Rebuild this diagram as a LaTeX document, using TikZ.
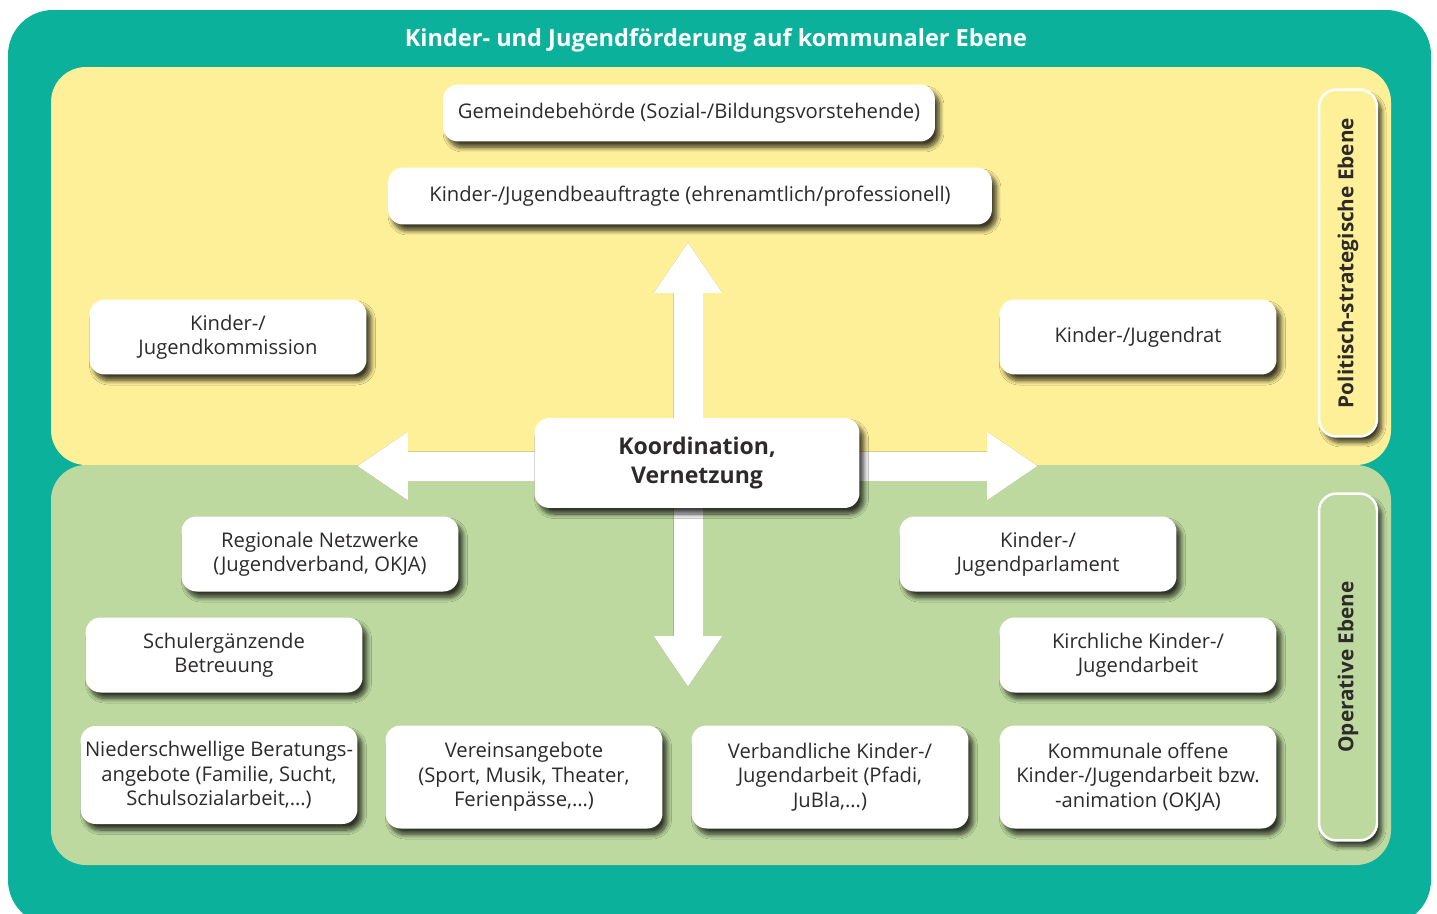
\documentclass[tikz,border=0pt]{standalone}
\usepackage{fontspec}
\setmainfont{Open Sans}
\usepackage{tikz}
\usetikzlibrary{arrows.meta,shapes,positioning,shadows,shadows.blur,calc}
\usepackage{xcolor}
\definecolor{frameteal}{RGB}{11,177,155}
\definecolor{polyellow}{RGB}{254,240,152}
\definecolor{opgreen}{RGB}{189,217,160}
\definecolor{boxtext}{RGB}{45,42,42}
\tikzstyle{softshadow} = [blur shadow={shadow xshift=0.09cm, shadow yshift=-0.12cm,
  shadow blur radius=0.09cm, shadow blur steps=10, shadow opacity=75}]
\tikzstyle{box} = [fill=white, rounded corners=0.3cm, align=center, text=boxtext,
  font=\fontsize{11.5}{13.9}\selectfont, inner xsep=1pt, softshadow]
\tikzstyle{smallbox} = [box, minimum width=5.54cm, minimum height=1.5cm]
\tikzstyle{levelbox} = [rounded corners=0.35cm, draw=white, line width=1.4pt, rotate=90,
  minimum width=6.94cm, minimum height=1.16cm, text=boxtext,
  font=\bfseries\fontsize{11.8}{13}\selectfont, softshadow]
\tikzstyle{bigarrow} = [line width=0.58cm, -{Triangle[length=1.02cm,width=1.3cm]}]

\begin{document}
\begin{tikzpicture}[x=0.02cm, y=-0.02cm]
    \useasboundingbox (0,0) rectangle (1437,913);
    \clip (0,0) rectangle (1437,913);

    % Frame and panels
    \fill[frameteal, rounded corners=0.9cm] (8,10) rectangle (1431,925);
    \node[text=white, font=\bfseries\fontsize{13.4}{15}\selectfont] (title) at (716,40)
        {Kinder- und Jugendförderung auf kommunaler Ebene};
    \fill[polyellow, rounded corners=0.7cm] (51,67) rectangle (1391,465);
    \fill[opgreen, rounded corners=0.7cm] (51,465) rectangle (1391,865);

    % Level labels
    \node[levelbox, fill=polyellow] (polit) at (1348,263) {Politisch-strategische Ebene};
    \node[levelbox, fill=opgreen] (oper) at (1348,667) {Operative Ebene};

    % Arrows
    \coordinate (hub) at (688,466);
    \coordinate (uptip) at (688,242);
    \coordinate (downtip) at (688,687);
    \coordinate (lefttip) at (357,466);
    \coordinate (righttip) at (1038,466);
    \begin{scope}[shift={(5,6)}, transparency group, opacity=0.4]
        \foreach \tip in {uptip,downtip,lefttip,righttip}
            \draw[bigarrow, black] (hub) -- (\tip);
    \end{scope}
    \foreach \tip in {uptip,downtip,lefttip,righttip}
        \draw[bigarrow, white] (hub) -- (\tip);

    % Political level
    \node[box, minimum width=9.84cm, minimum height=1.14cm] (gemeinde) at (689,113)
        {Gemeindebehörde (Sozial-/Bildungsvorstehende)};
    \node[box, minimum width=12.08cm, minimum height=1.14cm] (beauftragte) at (690,196)
        {Kinder-/Jugendbeauftragte (ehrenamtlich/professionell)};
    \node[smallbox] (kommission) at (228,337) {Kinder-/\\Jugendkommission};
    \node[smallbox] (rat) at (1138,337) {Kinder-/Jugendrat};

    % Centre
    \node[box, minimum width=6.5cm, minimum height=1.8cm,
          font=\bfseries\fontsize{13.1}{16}\selectfont] (koord) at (697,463)
        {Koordination,\\Vernetzung};

    % Operative level
    \node[smallbox] (netzwerke) at (320,554) {Regionale Netzwerke\\(Jugendverband, OKJA)};
    \node[smallbox] (parlament) at (1038,554) {Kinder-/\\Jugendparlament};
    \node[smallbox] (schule) at (224,655) {Schulergänzende\\Betreuung};
    \node[smallbox] (kirche) at (1138,655) {Kirchliche Kinder-/\\Jugendarbeit};
    \node[smallbox, minimum height=1.96cm] (beratung) at (219,775)
        {Niederschwellige Beratungs-\\angebote (Familie, Sucht,\\Schulsozialarbeit,…)};
    \node[smallbox, minimum height=2.06cm] (verein) at (524,777)
        {Vereinsangebote\\(Sport, Musik, Theater,\\Ferienpässe,…)};
    \node[smallbox, minimum height=2.06cm] (verband) at (830,777)
        {Verbandliche Kinder-/\\Jugendarbeit (Pfadi,\\JuBla,…)};
    \node[smallbox, minimum height=2.06cm] (okja) at (1138,777)
        {Kommunale offene\\Kinder-/Jugendarbeit bzw.\\-animation (OKJA)};
\end{tikzpicture}
\end{document}
